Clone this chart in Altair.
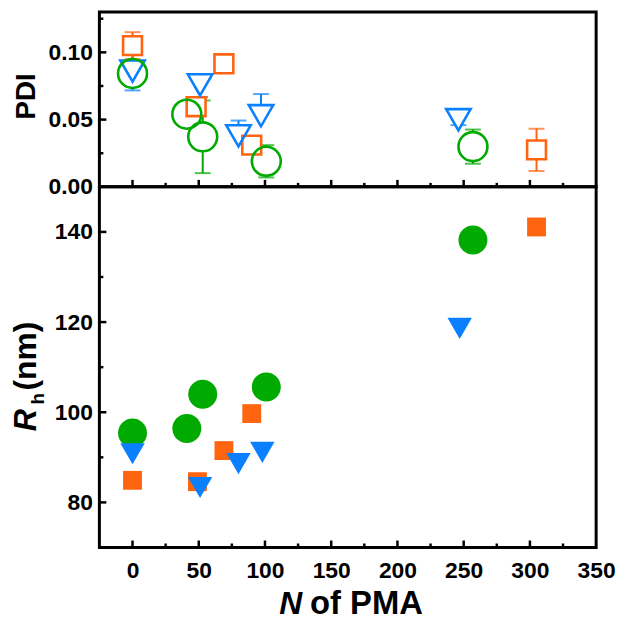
import altair as alt
import pandas as pd

# ---------------- data ----------------
series_names = ["sq", "tri", "ci"]

# top panel: PDI (open symbols)
pdi_sq_n = [0, 48, 69, 90, 305]
pdi_sq = [0.105, 0.0596, 0.0915, 0.031, 0.0275]
pdi_sq_up = [0.010, 0.006, 0.0, 0.004, 0.0157]
pdi_sq_dn = [0.010, 0.006, 0.0, 0.004, 0.0157]

pdi_tri_n = [0, 51, 80, 97, 246]
pdi_tri = [0.0861, 0.0758, 0.0379, 0.0529, 0.0499]
pdi_tri_up = [0.014, 0.0, 0.0114, 0.0161, 0.004]
pdi_tri_dn = [0.0144, 0.009, 0.0, 0.0, 0.004]

pdi_ci_n = [0, 41, 53, 101, 257]
pdi_ci = [0.0843, 0.054, 0.0372, 0.019, 0.0299]
pdi_ci_up = [0.003, 0.003, 0.027, 0.012, 0.0127]
pdi_ci_dn = [0.003, 0.003, 0.027, 0.012, 0.0127]

# bottom panel: Rh (filled symbols)
rh_ci_n = [0, 41, 53, 101, 257]
rh_ci = [95.4, 96.4, 104.0, 105.6, 138.2]
rh_sq_n = [0, 49, 69, 90, 305]
rh_sq = [84.9, 84.6, 91.5, 99.7, 141.1]
rh_tri_n = [0, 51, 80, 98, 247]
rh_tri = [90.8, 83.3, 88.6, 91.1, 118.6]

x_major = [0, 50, 100, 150, 200, 250, 300]
x_minor = [25, 75, 125, 175, 225, 275, 325]
x_labels = [0, 50, 100, 150, 200, 250, 300, 350]
pdi_major = [0.05, 0.10]
pdi_minor = [0.025, 0.075, 0.125]
pdi_labels = [0.0, 0.05, 0.10]
rh_major = [80, 100, 120, 140]
rh_minor = [90, 110, 130]

# ---------------- styling ----------------
W, H1, H2 = 500, 176, 363
ORANGE, BLUE, GREEN = "#FF6410", "#0A80FF", "#00AA00"
FONT = "Liberation Sans"

color_scale = alt.Scale(domain=series_names, range=[ORANGE, BLUE, GREEN])
shape_scale = alt.Scale(domain=series_names, range=["square", "triangle-down", "circle"])
xscale = alt.Scale(domain=[-25, 350], nice=False, zero=False)
y1scale = alt.Scale(domain=[0, 0.13], nice=False, zero=False)
y2scale = alt.Scale(domain=[70, 150], nice=False, zero=False)


def build(rows):
    out = []
    for s, ns, vs, ups, dns in rows:
        for n, v, u, d in zip(ns, vs, ups, dns):
            out.append({"s": s, "n": n, "v": v, "hi": v + u, "lo": v - d, "eu": u, "ed": d})
    return pd.DataFrame(out)


top_df = build([
    ("sq", pdi_sq_n, pdi_sq, pdi_sq_up, pdi_sq_dn),
    ("tri", pdi_tri_n, pdi_tri, pdi_tri_up, pdi_tri_dn),
    ("ci", pdi_ci_n, pdi_ci, pdi_ci_up, pdi_ci_dn),
])
top_df["order"] = range(len(top_df))

bot_rows = []
for s, ns, vs in [("ci", rh_ci_n, rh_ci), ("sq", rh_sq_n, rh_sq), ("tri", rh_tri_n, rh_tri)]:
    for n, v in zip(ns, vs):
        bot_rows.append({"s": s, "n": n, "v": v})
bot_df = pd.DataFrame(bot_rows)
bot_df["order"] = range(len(bot_df))

X = alt.X("n:Q", scale=xscale, axis=None)

# ---------- top panel ----------
top_base = alt.Chart(top_df)
yax1 = alt.Axis(values=pdi_labels, format=".2f", labelFont=FONT, labelFontSize=23,
                labelFontWeight="bold", labelColor="black", labelPadding=7,
                ticks=False, domain=False, grid=False, title=None)

err_rule_up = top_base.transform_filter("datum.eu > 0").mark_rule(strokeWidth=2).encode(
    x=X, y=alt.Y("v:Q", scale=y1scale, axis=yax1), y2="hi:Q",
    color=alt.Color("s:N", scale=color_scale, legend=None))
err_rule_dn = top_base.transform_filter("datum.ed > 0").mark_rule(strokeWidth=2).encode(
    x=X, y=alt.Y("lo:Q", scale=y1scale), y2="v:Q",
    color=alt.Color("s:N", scale=color_scale, legend=None))
cap_up = top_base.transform_filter("datum.eu > 0").mark_tick(
    orient="horizontal", size=16, thickness=2).encode(
    x=X, y=alt.Y("hi:Q", scale=y1scale),
    color=alt.Color("s:N", scale=color_scale, legend=None))
cap_dn = top_base.transform_filter("datum.ed > 0").mark_tick(
    orient="horizontal", size=16, thickness=2).encode(
    x=X, y=alt.Y("lo:Q", scale=y1scale),
    color=alt.Color("s:N", scale=color_scale, legend=None))

top_size = alt.Scale(domain=series_names, range=[360, 850, 460])
white_fill = top_base.mark_point(filled=True, opacity=1, strokeWidth=0, color="white").encode(
    x=X, y=alt.Y("v:Q", scale=y1scale),
    shape=alt.Shape("s:N", scale=shape_scale, legend=None),
    size=alt.Size("s:N", scale=top_size, legend=None), order="order:Q")
outline = top_base.mark_point(filled=False, opacity=1, strokeWidth=2.6).encode(
    x=X, y=alt.Y("v:Q", scale=y1scale),
    shape=alt.Shape("s:N", scale=shape_scale, legend=None),
    size=alt.Size("s:N", scale=top_size, legend=None),
    color=alt.Color("s:N", scale=color_scale, legend=None), order="order:Q")


def xticks(H, axis):
    xe = alt.X("t:Q", scale=xscale) if axis is not None else alt.X("t:Q", scale=xscale, axis=None)
    maj = alt.Chart(pd.DataFrame({"t": x_major})).mark_rule(strokeWidth=2.5, color="black").encode(
        x=xe, y=alt.value(H), y2=alt.value(H - 7))
    mnr = alt.Chart(pd.DataFrame({"t": x_minor})).mark_rule(strokeWidth=2.5, color="black").encode(
        x=xe, y=alt.value(H), y2=alt.value(H - 4))
    return maj, mnr


def yticks(major, minor, sc):
    maj = alt.Chart(pd.DataFrame({"t": major})).mark_rule(strokeWidth=2.5, color="black").encode(
        y=alt.Y("t:Q", scale=sc), x=alt.value(0), x2=alt.value(7))
    mnr = alt.Chart(pd.DataFrame({"t": minor})).mark_rule(strokeWidth=2.5, color="black").encode(
        y=alt.Y("t:Q", scale=sc), x=alt.value(0), x2=alt.value(4))
    return maj, mnr


def label(text, x, y, size, style="normal", weight="bold", align="center", angle=0):
    return alt.Chart(pd.DataFrame({"t": [text]})).mark_text(
        font=FONT, fontSize=size, fontWeight=weight, fontStyle=style, align=align,
        baseline="alphabetic", angle=angle, color="black").encode(
        x=alt.value(x), y=alt.value(y), text="t:N")


tx1, tx2 = xticks(H1, None)
ty1, ty2 = yticks(pdi_major, pdi_minor, y1scale)
pdi_title = label("PDI", -65, 85, 28, angle=270)

top = alt.layer(err_rule_up, err_rule_dn, cap_up, cap_dn, white_fill, outline,
                tx1, tx2, ty1, ty2, pdi_title).properties(width=W, height=H1)

# ---------- bottom panel ----------
bot_base = alt.Chart(bot_df)
yax2 = alt.Axis(values=rh_major, labelFont=FONT, labelFontSize=23,
                labelFontWeight="bold", labelColor="black", labelPadding=7,
                ticks=False, domain=False, grid=False, title=None)
xax2 = alt.Axis(values=x_labels, labelFont=FONT, labelFontSize=23,
                labelFontWeight="bold", labelColor="black", labelPadding=12,
                ticks=False, domain=False, grid=False, title=None, labelFlush=False)
bot_size = alt.Scale(domain=series_names, range=[580, 1000, 625])
filled = bot_base.mark_point(filled=True, opacity=1, strokeWidth=0).encode(
    x=alt.X("n:Q", scale=xscale, axis=xax2),
    y=alt.Y("v:Q", scale=y2scale, axis=yax2),
    shape=alt.Shape("s:N", scale=shape_scale, legend=None),
    size=alt.Size("s:N", scale=bot_size, legend=None),
    color=alt.Color("s:N", scale=color_scale, legend=None), order="order:Q")

bx1, bx2 = xticks(H2, xax2)
by1, by2 = yticks(rh_major, rh_minor, y2scale)
r_t = label("R", -64, 246, 31, style="italic", align="left", angle=270)
h_t = label("h", -56, 219, 19, align="left", angle=270)
nm_t = label("(nm)", -64, 205, 32, align="left", angle=270)
n_t = label("N", 181, H2 + 67, 32, style="italic", align="left")
of_t = label("of PMA", 212, H2 + 67, 33, align="left")

bottom = alt.layer(filled, bx1, bx2, by1, by2, r_t, h_t, nm_t, n_t, of_t).properties(
    width=W, height=H2)

chart = alt.vconcat(top, bottom, spacing=0, bounds="flush").properties(
    padding={"left": 0, "top": 0, "right": 0, "bottom": 0}, background="white"
).configure_view(stroke="black", strokeWidth=3)

chart.save("out.html", embed_options={"renderer": "svg", "actions": False})
